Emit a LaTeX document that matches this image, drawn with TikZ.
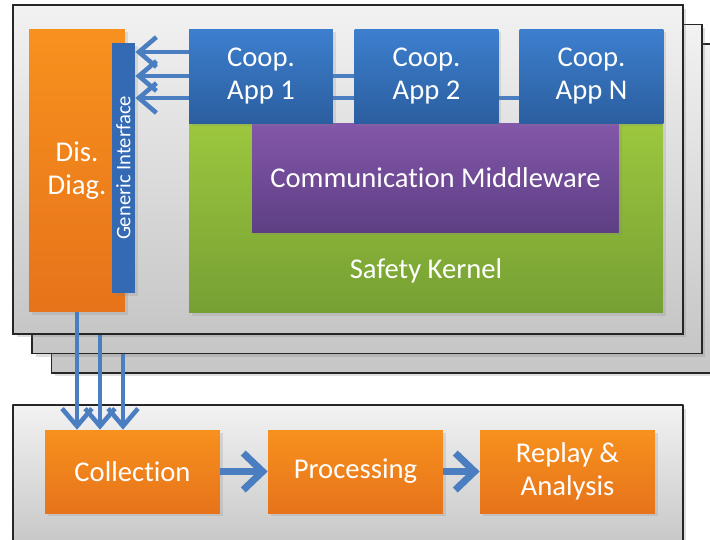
\documentclass[tikz,border=0pt]{standalone}
\usepackage{fontspec}
\setmainfont{Carlito}[Ligatures=NoCommon]
\usetikzlibrary{arrows.meta,shadows}

\definecolor{frameTop}{HTML}{F2F2F2}
\definecolor{frameBot}{HTML}{C6C6C6}
\definecolor{frameLine}{HTML}{262626}
\definecolor{appTop}{HTML}{3D7FCE}
\definecolor{appBot}{HTML}{2B5E9F}
\definecolor{barBlue}{HTML}{3469B4}
\definecolor{diagTop}{HTML}{F7911E}
\definecolor{diagBot}{HTML}{E7731A}
\definecolor{kernelTop}{HTML}{9CC73E}
\definecolor{kernelBot}{HTML}{76A033}
\definecolor{mwTop}{HTML}{8357A9}
\definecolor{mwBot}{HTML}{5E3F84}
\definecolor{flowBlue}{HTML}{4A7EC0}

\pgfdeclarelayer{frames}
\pgfdeclarelayer{links}
\pgfsetlayers{frames,links,main}

\tikzset{
  unitframe/.style={draw=frameLine, line width=0.8pt, top color=frameTop, bottom color=frameBot,
    minimum width=13.4cm, minimum height=6.58cm,
    drop shadow={opacity=0.25, shadow xshift=2pt, shadow yshift=-2pt}},
  block/.style={text=white, align=center, inner sep=0pt,
    font=\fontsize{16.3}{19}\selectfont,
    drop shadow={opacity=0.2, shadow xshift=1.5pt, shadow yshift=-1.5pt}},
  app/.style={block, top color=appTop, bottom color=appBot,
    minimum width=2.88cm, minimum height=1.88cm},
  stage/.style={block, top color=diagTop, bottom color=diagBot,
    minimum width=3.5cm, minimum height=1.66cm},
  flow/.style={draw=flowBlue, line width=2.6pt, -{Straight Barb[length=10pt,width=17pt]}},
  bigflow/.style={flow, line width=4pt, -{Straight Barb[length=11pt,width=21pt]}}
}

\begin{document}
\begin{tikzpicture}[x=0.02cm, y=-0.02cm, line join=round]
  \useasboundingbox (0,0) rectangle (710,539);

  % stacked node units
  \begin{pgfonlayer}{frames}
    \node[unitframe] (third)  at (386.5,208.5) {};
    \node[unitframe] (second) at (367,189) {};
    \node[unitframe] (front)  at (348,169.5) {};
  \end{pgfonlayer}

  \node[block, top color=kernelTop, bottom color=kernelBot,
        minimum width=9.48cm, minimum height=3.8cm] (kernel) at (426,218) {};
  \node[text=white, font=\fontsize{16.3}{19}\selectfont] (kernelText)
        at ([yshift=0.84cm]kernel.south) {Safety Kernel};
  \node[block, top color=mwTop, bottom color=mwBot,
        minimum width=7.34cm, minimum height=2.18cm] (mw) at (435.5,177.5) {Communication Middleware};

  \node[app] (app1) at (261,76) {Coop.\\App 1};
  \node[app] (app2) at (426.5,76) {Coop.\\App 2};
  \node[app] (appN) at (591.5,76) {Coop.\\App N};

  \node[block, top color=diagTop, bottom color=diagBot,
        minimum width=1.92cm, minimum height=5.66cm] (diag) at (77,170.5) {Dis.\\Diag.};
  \node[block, fill=barBlue, rotate=90, font=\fontsize{11.7}{13}\selectfont,
        minimum width=5cm, minimum height=0.46cm] (gi) at (123.5,168) {Generic Interface};

  % traces from every application into the interface
  \begin{pgfonlayer}{links}
    \draw[flow] ([yshift=0.48cm]app1.center) -- ([yshift=0.48cm]app1.center -| gi.south);
    \draw[flow] (app2.center) -- (app2.center -| gi.south);
    \draw[flow] ([yshift=-0.44cm]appN.center) -- ([yshift=-0.44cm]appN.center -| gi.south);
  \end{pgfonlayer}

  % analysis unit
  \node[unitframe, minimum height=2.88cm] (offline) at (348,477) {};
  \node[stage] (coll) at (132.5,471.5) {Collection};
  \node[stage] (proc) at (355.5,471.5) {Processing};
  \node[stage] (replay) at (567.5,471.5) {Replay \&\\Analysis};

  \draw[flow] (diag.south) -- (diag.south |- coll.north);
  \draw[flow] ([xshift=0.46cm]diag.south |- front.south) -- ([xshift=0.46cm]diag.south |- coll.north);
  \draw[flow] ([xshift=0.92cm]diag.south |- second.south) -- ([xshift=0.92cm]diag.south |- coll.north);

  \draw[bigflow] (coll) -- (proc);
  \draw[bigflow] (proc) -- (replay);
\end{tikzpicture}
\end{document}
